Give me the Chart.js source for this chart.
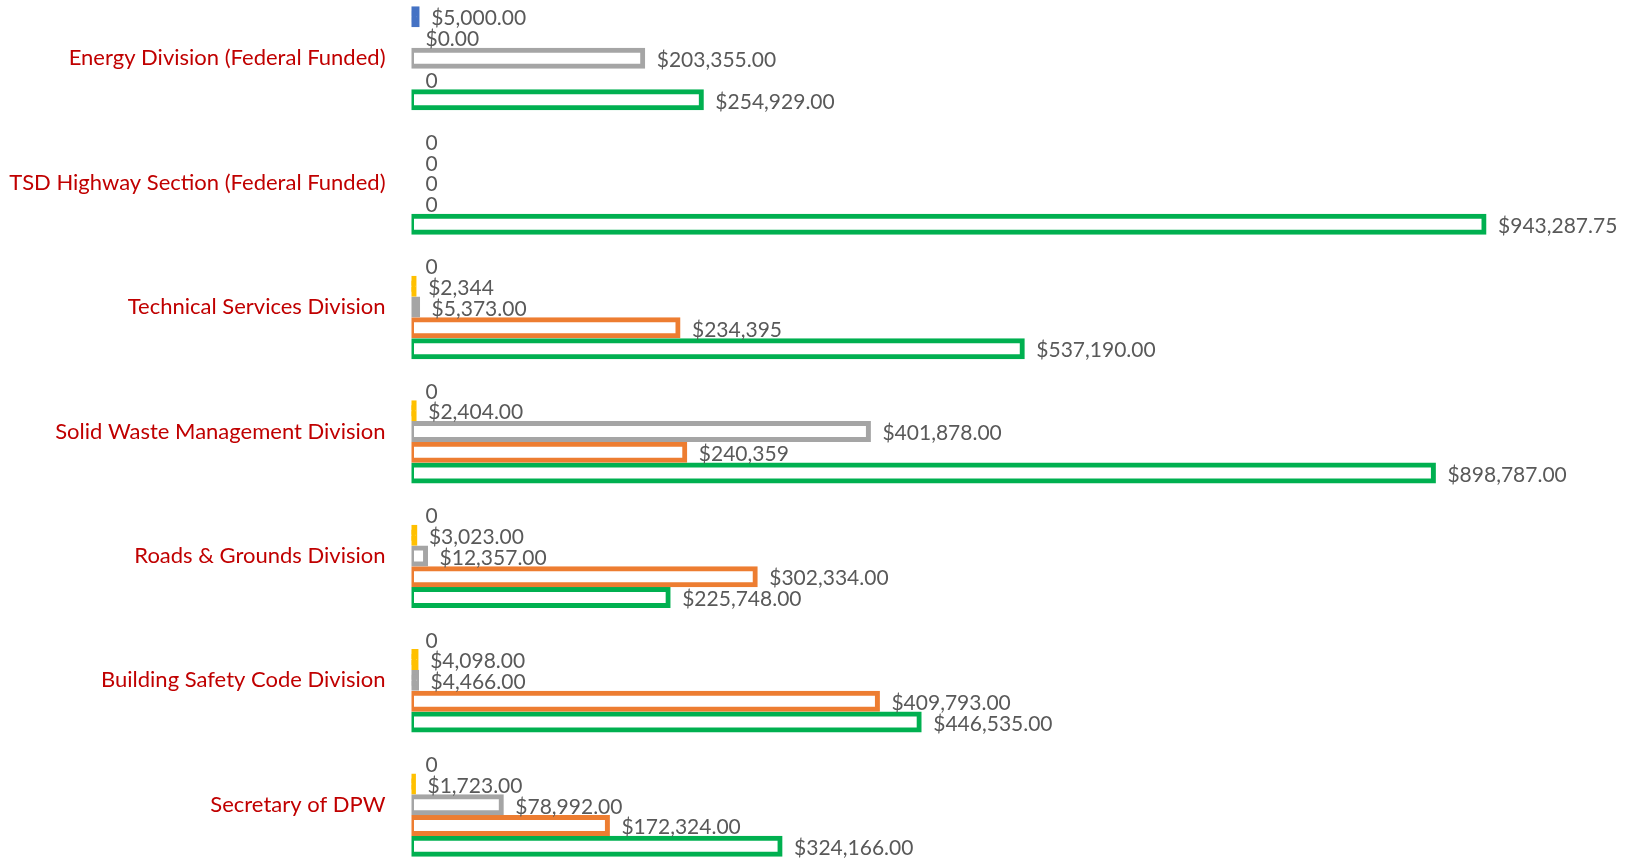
<!DOCTYPE html>
<html>
<head>
<meta charset="utf-8">
<script src="https://cdn.jsdelivr.net/npm/chart.js@4/dist/chart.umd.min.js"></script>
<style>
  html, body { margin: 0; padding: 0; background: #fff; overflow: hidden; }
  #wrap { position: absolute; left: 0; top: -4px; width: 1631px; height: 871px; }
</style>
</head>
<body>
<div id="wrap"><canvas id="budgetChart"></canvas></div>
<script>
const divisions = ['Energy Division (Federal Funded)', 'TSD Highway Section (Federal Funded)', 'Technical Services Division',
    'Solid Waste Management Division', 'Roads & Grounds Division', 'Building Safety Code Division', 'Secretary of DPW'];

const blueValues   = [5000, 0, 0, 0, 0, 0, 0];
const yellowValues = [0, 0, 2344, 2404, 3023, 4098, 1723];
const grayValues   = [203355, 0, 5373, 401878, 12357, 4466, 78992];
const orangeValues = [0, 0, 234395, 240359, 302334, 409793, 172324];
const greenValues  = [254929, 943287.75, 537190, 898787, 225748, 446535, 324166];

// number format shown on each label: c2 = $ with cents, c0 = $ no cents, n = plain
const blueFormats   = ['c2', 'n', 'n', 'n', 'n', 'n', 'n'];
const yellowFormats = ['c2', 'n', 'c0', 'c2', 'c2', 'c2', 'c2'];
const grayFormats   = ['c2', 'n', 'c2', 'c2', 'c2', 'c2', 'c2'];
const orangeFormats = ['n', 'n', 'c0', 'c0', 'c2', 'c2', 'c2'];
const greenFormats  = ['c2', 'c2', 'c2', 'c2', 'c2', 'c2', 'c2'];

const BORDER = 5;

function fmt(v, f) {
    if (f === 'c2') return '$' + v.toLocaleString('en-US', { minimumFractionDigits: 2, maximumFractionDigits: 2 });
    if (f === 'c0') return '$' + v.toLocaleString('en-US', { maximumFractionDigits: 0 });
    return String(v);
}

// thin bars are all border in the original, so fill them solid
function barWidthPx(c) {
    const x = c.chart.scales.x;
    return x.getPixelForValue(c.raw) - x.getPixelForValue(0);
}

function series(label, values, formats, color) {
    return {
        label: label,
        data: values,
        formats: formats,
        backgroundColor: c => barWidthPx(c) < BORDER * 1.6 ? color : '#ffffff',
        borderColor: color,
        borderWidth: c => c.raw === 0 ? 0 : BORDER,
        borderSkipped: false,
        inflateAmount: c => c.raw === 0 ? 0 : BORDER / 2,
        barPercentage: 0.77,
        categoryPercentage: 0.835
    };
}

const valueLabels = {
    id: 'valueLabels',
    afterDatasetsDraw(chart) {
        const ctx = chart.ctx;
        ctx.save();
        ctx.font = '21px Lato';
        ctx.fillStyle = '#595959';
        ctx.textAlign = 'left';
        ctx.textBaseline = 'middle';
        chart.data.datasets.forEach((ds, i) => {
            chart.getDatasetMeta(i).data.forEach((bar, j) => {
                ctx.fillText(fmt(ds.data[j], ds.formats[j]), bar.x + 14, bar.y + 2);
            });
        });
        ctx.restore();
    }
};

const ctx = document.getElementById('budgetChart').getContext('2d');
new Chart(ctx, {
    type: 'bar',
    data: {
        labels: divisions,
        datasets: [
            series('Series 1', blueValues, blueFormats, '#4472C4'),
            series('Series 2', yellowValues, yellowFormats, '#FFC000'),
            series('Series 3', grayValues, grayFormats, '#A5A5A5'),
            series('Series 4', orangeValues, orangeFormats, '#ED7D31'),
            series('Series 5', greenValues, greenFormats, '#00B050')
        ]
    },
    options: {
        indexAxis: 'y',
        responsive: true,
        maintainAspectRatio: false,
        animation: false,
        layout: { padding: { left: 0, right: 82.5, top: 0, bottom: 0 } },
        plugins: { legend: { display: false }, tooltip: { enabled: false } },
        scales: {
            x: { display: false, min: 0, max: 1000000 },
            y: {
                afterFit: s => {
                    s.width = 411.5;
                    s.paddingTop = 0;
                    s.paddingBottom = 0;
                },
                grid: { display: false, drawTicks: false },
                border: { display: false },
                ticks: { color: '#C00000', font: { family: 'Lato', size: 22 }, padding: 26 }
            }
        }
    },
    plugins: [valueLabels]
});
</script>
</body>
</html>
